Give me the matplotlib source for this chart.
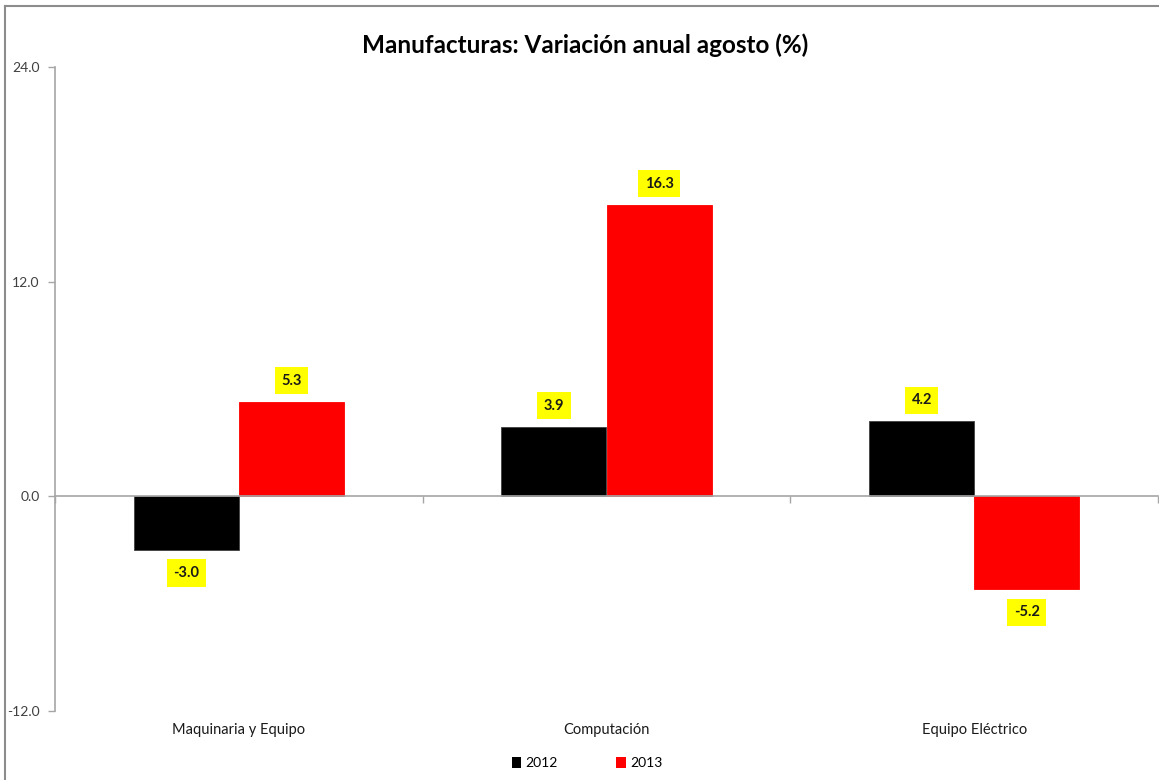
import numpy as np
import matplotlib.pyplot as plt
from matplotlib.lines import Line2D
from matplotlib.patches import Patch

plt.rcParams['font.family'] = ['Lato', 'DejaVu Sans']

# Data
categories = ['Maquinaria y Equipo', 'Computación', 'Equipo Eléctrico']
years = ['2012', '2013']
values_2012 = [-3.0, 3.9, 4.2]
values_2013 = [5.3, 16.3, -5.2]
colors = ['#000000', '#ff0000']
y_ticks = [-12, 0, 12, 24]

fig = plt.figure(figsize=(11.59, 7.80), dpi=100)
ax = fig.add_axes([55 / 1159, 1 - 711 / 780, (1158 - 55) / 1159, (711 - 67) / 780])

x = np.arange(len(categories))
width = 0.286
grey = '#a6a6a6'
txt = '#404040'

for k, (vals, col) in enumerate(zip([values_2012, values_2013], colors)):
    offs = (k - 0.5) * width
    bars = ax.bar(x + offs, vals, width, color=col, edgecolor='#404040' if k == 0 else col,
                  linewidth=0.6, zorder=2)
    for b, v in zip(bars, vals):
        dy = 21 if v >= 0 else -23
        ax.annotate(f'{v:.1f}', (b.get_x() + b.get_width() / 2, v),
                    xytext=(0, dy), textcoords='offset pixels',
                    ha='center', va='center', fontsize=10.5, fontweight='bold',
                    color='#1a1a1a',
                    bbox=dict(boxstyle='square,pad=0.45', fc='#ffff00', ec='none'))

ax.set_xlim(-0.5, len(categories) - 0.5)
ax.set_ylim(-12, 24)
ax.set_yticks(y_ticks)
ax.set_yticklabels([f'{t:.1f}' for t in y_ticks], fontsize=10, color=txt)
ax.tick_params(axis='y', length=5, color=grey, width=1, pad=6)

# x axis sits on zero
ax.spines['bottom'].set_position(('data', 0))
ax.spines['bottom'].set_color(grey)
ax.spines['bottom'].set_linewidth(1.2)
ax.spines['left'].set_color(grey)
ax.spines['left'].set_linewidth(1.2)
ax.spines['top'].set_visible(False)
ax.spines['right'].set_visible(False)
ax.set_xticks(np.arange(len(categories) + 1) - 0.5)
ax.set_xticklabels([])
ax.tick_params(axis='x', length=5, color=grey, width=1, direction='out')

for i, name in enumerate(categories):
    ax.text(i, -0.03, name, transform=ax.get_xaxis_transform(),
            ha='center', va='center', fontsize=10.5, color='#1a1a1a')

fig.text(585 / 1159, 1 - 45 / 780, 'Manufacturas: Variación anual agosto (%)',
         ha='center', va='center', fontsize=17.5, fontweight='bold', color='#000000')

handles = [Patch(facecolor=c, edgecolor='none') for c in colors]
fig.legend(handles, years, loc='center', bbox_to_anchor=(587 / 1159, 1 - 763 / 780),
           ncol=2, frameon=False, fontsize=10, handlelength=0.7, handleheight=0.9,
           handletextpad=0.3, columnspacing=4.2)

# chart frame (top and left edges visible)
fig.add_artist(Line2D([5 / 1159, 5 / 1159], [0, 1 - 6 / 780], color='#8c8c8c', lw=1.5,
                      transform=fig.transFigure))
fig.add_artist(Line2D([5 / 1159, 1], [1 - 6 / 780, 1 - 6 / 780], color='#8c8c8c', lw=1.5,
                      transform=fig.transFigure))

fig.savefig('out.png', dpi=100)
